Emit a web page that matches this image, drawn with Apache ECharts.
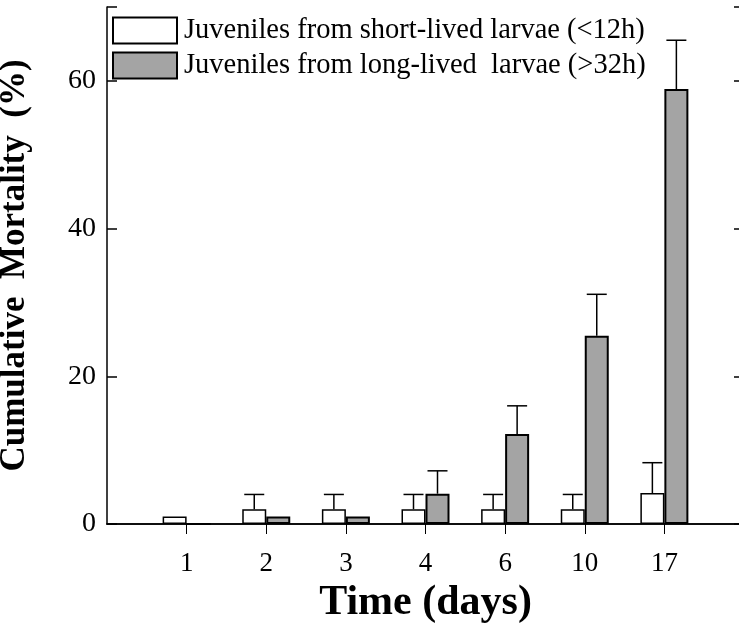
<!DOCTYPE html>
<html>
<head>
<meta charset="utf-8">
<script src="https://cdn.jsdelivr.net/npm/echarts@6/dist/echarts.min.js"></script>
<style>
  html, body { margin: 0; padding: 0; background: #fff; }
  #diagram { width: 739px; height: 637px; }
</style>
</head>
<body>
<div id="diagram"></div>
<script>
var days = ["1", "2", "3", "4", "6", "10", "17"];
var shortLived = [1, 2, 2, 2, 2, 2, 4.2];
var shortLivedErr = [0, 2, 2, 2, 2, 2, 4.1];
var longLived = [0, 1, 1, 4.1, 12.2, 25.5, 58.9];
var longLivedErr = [0, 0, 0, 3.1, 3.8, 5.6, 6.6];
var yTicks = [0, 20, 40, 60];

var names = [
  "Juveniles from short-lived larvae (<12h)",
  "Juveniles from long-lived  larvae (>32h)"
];

// pad with an empty slot on each side so the days sit on points 1..7
var cats = [""].concat(days, [""]);
function pad(arr) { return [null].concat(arr, [null]); }

function errData(vals, errs) {
  var out = [];
  for (var i = 0; i < vals.length; i++) {
    if (errs[i] > 0) out.push([i + 1, vals[i], vals[i] + errs[i]]);
  }
  return out;
}

function errSeries(vals, errs, shift) {
  return {
    type: "custom",
    silent: true,
    z: 5,
    data: errData(vals, errs),
    renderItem: function (params, api) {
      var base = api.coord([api.value(0), api.value(1)]);
      var top = api.coord([api.value(0), api.value(2)]);
      var x = base[0] + shift;
      var st = { stroke: "#000", lineWidth: 1.5 };
      return {
        type: "group",
        children: [
          { type: "line", shape: { x1: x, y1: base[1], x2: x, y2: top[1] }, style: st },
          { type: "line", shape: { x1: x - 10, y1: top[1], x2: x + 10, y2: top[1] }, style: st }
        ]
      };
    }
  };
}

var font = "'Liberation Serif', 'DejaVu Serif', serif";
var showMid = function (idx) { return idx >= 1 && idx <= days.length; };

var myChart = echarts.init(document.getElementById("diagram"));
var option = {
  animation: false,
  grid: { left: 107, right: -5, top: 7, bottom: 113, containLabel: false, outerBoundsMode: "none" },
  legend: {
    orient: "vertical",
    left: 112,
    top: 16,
    icon: "rect",
    itemWidth: 64,
    itemHeight: 26,
    itemGap: 6,
    padding: 0,
    selectedMode: false,
    textStyle: { fontFamily: font, fontSize: 28.5, color: "#000", padding: [0, 0, 0, 2] },
    data: names
  },
  xAxis: [
    {
      type: "category",
      data: cats,
      boundaryGap: false,
      axisLine: { lineStyle: { color: "#000", width: 1.5 } },
      axisTick: { inside: false, length: 10, interval: showMid, lineStyle: { color: "#000", width: 1 } },
      axisLabel: { interval: showMid, margin: 26, fontFamily: font, fontSize: 27, color: "#000" },
      name: "Time (days)",
      nameLocation: "middle",
      nameGap: 30,
      nameTextStyle: { fontFamily: font, fontSize: 42, fontWeight: "bold", color: "#000" }
    },
    {
      type: "category",
      position: "top",
      data: cats,
      boundaryGap: false,
      axisLine: { lineStyle: { color: "#000", width: 1.5 } },
      axisTick: { show: false },
      axisLabel: { show: false }
    }
  ],
  yAxis: [
    {
      type: "value",
      min: 0,
      max: 70,
      interval: 20,
      splitLine: { show: false },
      axisLine: { show: true, lineStyle: { color: "#000", width: 1.5 } },
      axisTick: { show: true, inside: true, length: 10, lineStyle: { color: "#000", width: 1.5 } },
      axisLabel: {
        margin: 11,
        fontFamily: font,
        fontSize: 28,
        color: "#000",
        formatter: function (v) { return yTicks.indexOf(v) >= 0 ? String(v) : ""; }
      },
      name: "Cumulative  Mortality  (%)",
      nameLocation: "middle",
      nameGap: 75,
      nameTextStyle: { fontFamily: font, fontSize: 35, fontWeight: "bold", color: "#000" }
    },
    {
      type: "value",
      position: "right",
      min: 0,
      max: 70,
      interval: 20,
      splitLine: { show: false },
      axisLine: { show: true, lineStyle: { color: "#000", width: 1.5 } },
      axisTick: { show: true, inside: true, length: 10, lineStyle: { color: "#000", width: 1.5 } },
      axisLabel: { show: false }
    }
  ],
  series: [
    {
      name: names[0],
      type: "bar",
      barWidth: 24,
      barGap: "0%",
      data: pad(shortLived),
      itemStyle: { color: "#fff", borderColor: "#000", borderWidth: 1.5 }
    },
    {
      name: names[1],
      type: "bar",
      barWidth: 24,
      barGap: "0%",
      data: pad(longLived),
      itemStyle: { color: "#a4a4a4", borderColor: "#000", borderWidth: 2 }
    },
    errSeries(shortLived, shortLivedErr, -12),
    errSeries(longLived, longLivedErr, 12)
  ]
};
myChart.setOption(option);
</script>
</body>
</html>
